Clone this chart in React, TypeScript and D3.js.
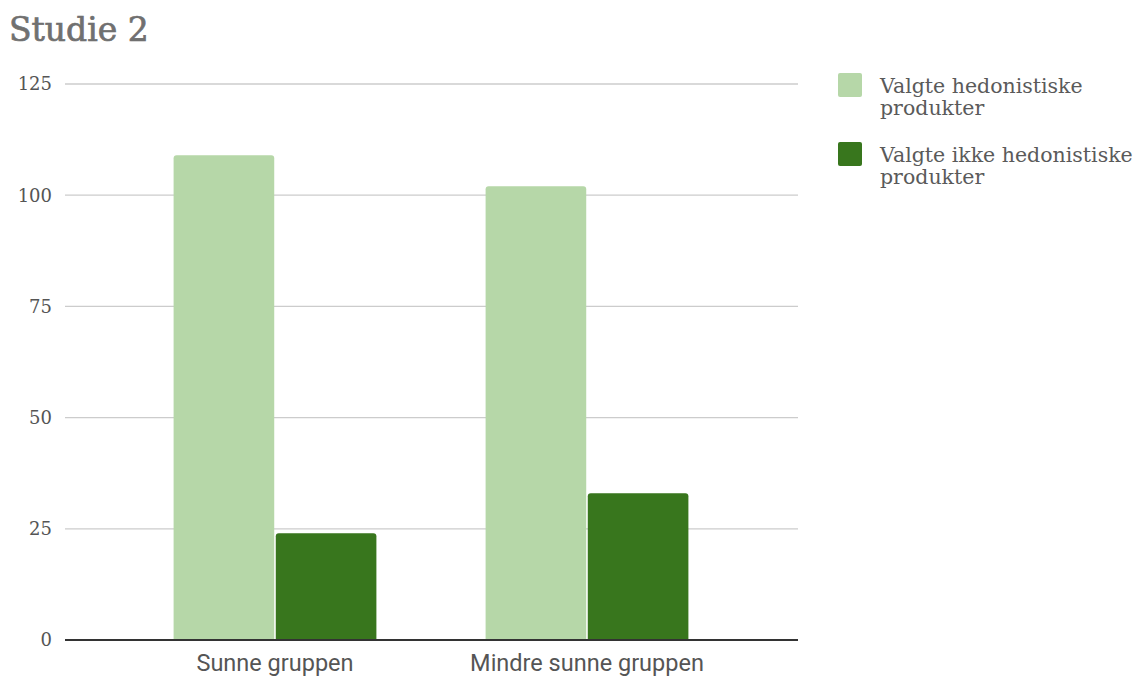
import React from "react";
import * as d3 from "d3";

const categories = ["Sunne gruppen", "Mindre sunne gruppen"];
const seriesNames = ["Valgte hedonistiske produkter", "Valgte ikke hedonistiske produkter"];
const legendLines = [["Valgte hedonistiske", "produkter"], ["Valgte ikke hedonistiske", "produkter"]];
const hedonistic = [109, 102];
const nonHedonistic = [24, 33];
const yTicks = [0, 25, 50, 75, 100, 125];
const colors = ["#b6d7a8", "#38761d"];

export default function App() {
  const W = 1143, H = 677;
  const plotLeft = 65, plotRight = 798;
  const y = d3.scaleLinear().domain([0, 125]).range([640, 84]);
  const x0 = d3.scaleBand<string>().domain(categories).range([119, 743]).paddingInner(0.35).paddingOuter(0.175);
  const x1 = d3.scaleBand<string>().domain(seriesNames).range([0, x0.bandwidth()]).paddingInner(0.015);
  const values = [hedonistic, nonHedonistic];
  const serif = "Georgia, 'DejaVu Serif', serif";
  const sans = "Roboto, Arial, sans-serif";
  return (
    <svg width={W} height={H} style={{ position: "absolute", left: 0, top: 0, background: "#fff" }}>
      <text x={9} y={41} fontFamily={serif} fontSize={33} fill="#707070" stroke="#707070" strokeWidth={0.7}>Studie 2</text>
      {yTicks.map((t) => (
        <g key={t}>
          {t !== 0 && <line x1={plotLeft} x2={plotRight} y1={y(t)} y2={y(t)} stroke="#cccccc" strokeWidth={1.3} />}
          <text x={52} y={y(t)} dy="0.35em" textAnchor="end" fontFamily={serif} fontSize={18} fill="#555">{t}</text>
        </g>
      ))}
      {categories.map((c, ci) => (
        <g key={c}>
          {seriesNames.map((s, si) => {
            const v = values[si][ci];
            const bx = (x0(c) ?? 0) + (x1(s) ?? 0);
            const by = y(v);
            const bw = x1.bandwidth();
            return (
              <path key={s} d={`M${bx},${y(0)} V${by + 3} Q${bx},${by} ${bx + 3},${by} H${bx + bw - 3} Q${bx + bw},${by} ${bx + bw},${by + 3} V${y(0)} Z`} fill={colors[si]} />
            );
          })}
          <text x={(x0(c) ?? 0) + x0.bandwidth() / 2} y={671} textAnchor="middle" fontFamily={sans} fontSize={23.5} fill="#555">{c}</text>
        </g>
      ))}
      <line x1={plotLeft} x2={plotRight} y1={y(0)} y2={y(0)} stroke="#333" strokeWidth={2} />
      {seriesNames.map((s, i) => (
        <g key={s} transform={`translate(838, ${73 + i * 69})`}>
          <rect x={0} y={0} width={24} height={24} rx={2} fill={colors[i]} />
          {legendLines[i].map((l, li) => (
            <text key={li} x={42} y={20 + li * 22} fontFamily={serif} fontSize={20.5} fill="#5a5a5a">{l}</text>
          ))}
        </g>
      ))}
    </svg>
  );
}
